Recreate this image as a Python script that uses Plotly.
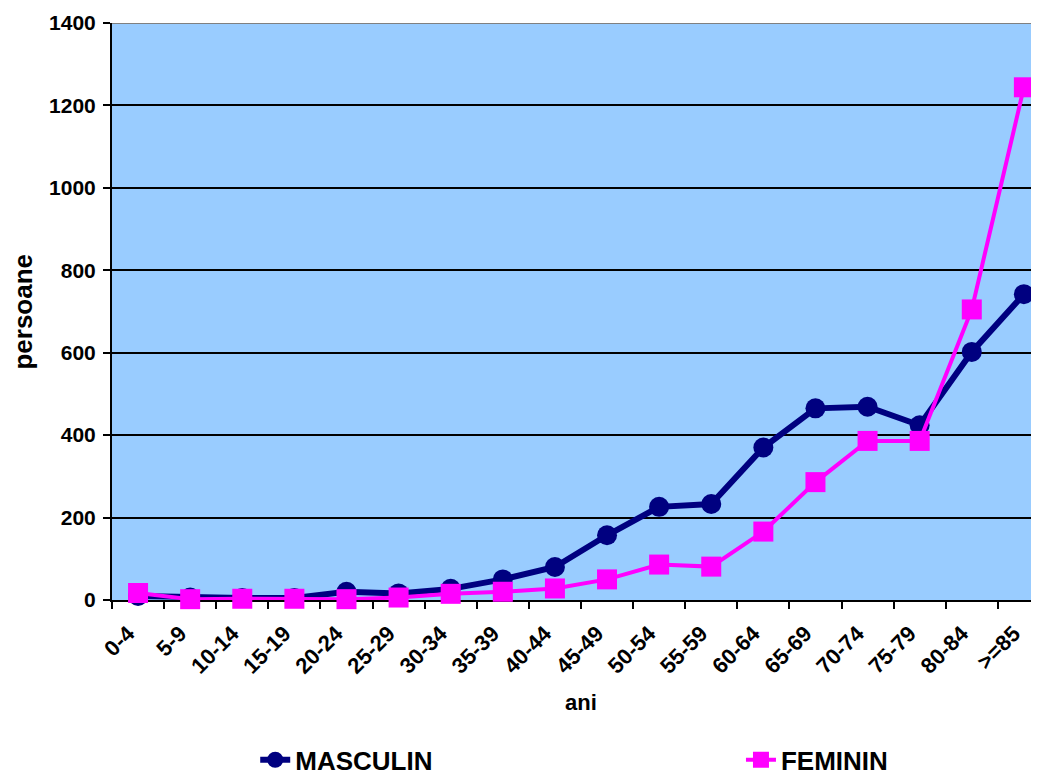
import plotly.graph_objects as go

categories = ["0-4", "5-9", "10-14", "15-19", "20-24", "25-29", "30-34", "35-39",
              "40-44", "45-49", "50-54", "55-59", "60-64", "65-69", "70-74",
              "75-79", "80-84", ">=85"]
masculin = [10, 6, 5, 5, 20, 16, 27, 50, 80, 157, 226, 233, 370, 465, 469, 424, 602, 742]
feminin = [17, 2, 3, 3, 2, 6, 15, 20, 28, 50, 86, 81, 166, 286, 386, 386, 705, 1244]
y_ticks = [0, 200, 400, 600, 800, 1000, 1200, 1400]

FONT = "Liberation Sans, Arial, sans-serif"

fig = go.Figure()
fig.add_trace(go.Scatter(
    x=categories, y=masculin, name="MASCULIN", mode="lines+markers",
    line=dict(color="#000080", width=6),
    marker=dict(symbol="circle", size=20, color="#000080"),
    cliponaxis=False, legend="legend",
))
fig.add_trace(go.Scatter(
    x=categories, y=feminin, name="FEMININ", mode="lines+markers",
    line=dict(color="#FF00FF", width=4),
    marker=dict(symbol="square", size=20, color="#FF00FF"),
    cliponaxis=False, legend="legend2",
))

legend_font = dict(family=FONT, size=26, color="black", weight="bold")

# page body has an 8px margin, so the figure is sized/offset to compensate
fig.update_layout(
    width=1031, height=766,
    margin=dict(l=104, r=0, t=15, b=174, autoexpand=False),
    paper_bgcolor="white",
    plot_bgcolor="#99CCFF",
    font=dict(family=FONT, color="black"),
    showlegend=True,
    legend=dict(
        orientation="h", x=0.1545, y=-0.277, xanchor="left", yanchor="middle",
        font=legend_font, bgcolor="rgba(0,0,0,0)", borderwidth=0,
    ),
    legend2=dict(
        orientation="h", x=0.6785, y=-0.277, xanchor="left", yanchor="middle",
        font=legend_font, bgcolor="rgba(0,0,0,0)", borderwidth=0,
    ),
    xaxis=dict(
        type="category",
        range=[-0.5, 17.29],
        tickson="boundaries",
        ticks="outside", ticklen=7, tickwidth=2, tickcolor="black",
        showline=True, linecolor="black", linewidth=2,
        showgrid=False,
        tickangle=-45,
        ticklabelshift=-10, ticklabelstandoff=10,
        tickfont=dict(family=FONT, size=22, color="black", weight="bold"),
        layer="below traces",
        automargin=False,
    ),
    yaxis=dict(
        range=[0, 1400],
        tickvals=y_ticks,
        ticks="outside", ticklen=7, tickwidth=2, tickcolor="black",
        showline=True, linecolor="black", linewidth=2,
        showgrid=True, gridcolor="black", gridwidth=2,
        zeroline=False,
        ticklabelstandoff=3,
        tickfont=dict(family=FONT, size=21, color="black", weight="bold"),
        layer="below traces",
        automargin=False,
    ),
    shapes=[
        dict(type="line", xref="paper", yref="y", x0=0, x1=1, y0=1400, y1=1400,
             line=dict(color="#808080", width=2), layer="above"),
    ],
    annotations=[
        dict(text="persoane", textangle=-90, xref="paper", yref="paper",
             x=-0.097, y=0.5, xanchor="center", yanchor="middle", showarrow=False,
             font=dict(family=FONT, size=26, color="black", weight="bold")),
        dict(text="ani", xref="paper", yref="paper",
             x=0.506, y=-0.1785, xanchor="center", yanchor="middle", showarrow=False,
             font=dict(family=FONT, size=22, color="black", weight="bold")),
    ],
)

fig.write_html("out.html")
